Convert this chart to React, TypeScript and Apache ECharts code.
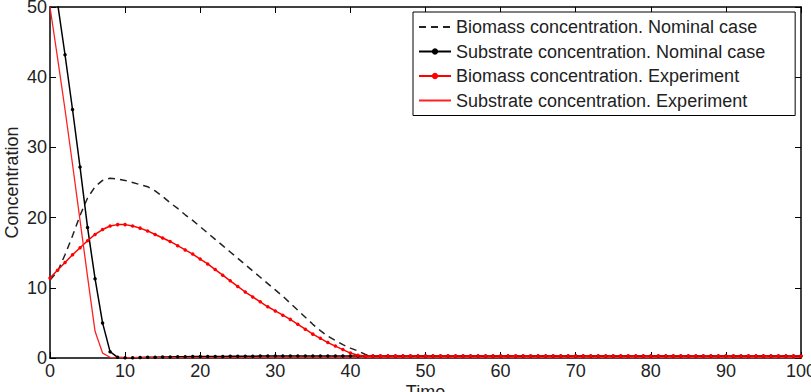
import React, { useEffect, useRef } from "react";
import * as echarts from "echarts";

// Time grid (x values)
const time: number[] = Array.from({ length: 101 }, (_, i) => i);

// Biomass concentration, nominal case (dashed)
const biomassNominal: number[] = [
  11.1, 12.3, 14.7, 17.4, 20.3, 22.8, 24.4, 25.3, 25.6, 25.5,
  25.3, 25.0, 24.7, 24.4, 23.8, 23.0, 22.1, 21.3, 20.4, 19.6,
  18.7, 17.8, 16.9, 16.0, 15.1, 14.2, 13.3, 12.4, 11.5, 10.6,
  9.7, 8.8, 7.8, 6.8, 5.8, 4.8, 3.9, 3.1, 2.5, 1.9,
  1.4, 1.0, 0.5, 0.3, 0.2, 0.2, 0.2, 0.2, 0.2, 0.2,
  0.2, 0.2, 0.2, 0.2, 0.2, 0.2, 0.2, 0.2, 0.2, 0.2,
  0.2, 0.2, 0.2, 0.2, 0.2, 0.2, 0.2, 0.2, 0.2, 0.2,
  0.2, 0.2, 0.2, 0.2, 0.2, 0.2, 0.2, 0.2, 0.2, 0.2,
  0.2, 0.2, 0.2, 0.2, 0.2, 0.2, 0.2, 0.2, 0.2, 0.2,
  0.2, 0.2, 0.2, 0.2, 0.2, 0.2, 0.2, 0.2, 0.2, 0.2,
  0.2,
];

// Substrate concentration, nominal case (black, markers)
const substrateNominal: number[] = [
  58.0, 50.6, 43.2, 35.4, 27.2, 18.6, 11.3, 5.0, 0.9, 0.1,
  0.05, 0.05, 0.08, 0.1, 0.12, 0.15, 0.15, 0.18, 0.18, 0.2,
  0.2, 0.2, 0.22, 0.22, 0.25, 0.25, 0.25, 0.25, 0.27, 0.27,
  0.28, 0.28, 0.28, 0.3, 0.3, 0.3, 0.3, 0.3, 0.3, 0.3,
  0.3, 0.3, 0.3, 0.3, 0.3, 0.3, 0.3, 0.3, 0.3, 0.3,
  0.3, 0.3, 0.3, 0.3, 0.3, 0.3, 0.3, 0.3, 0.3, 0.3,
  0.3, 0.3, 0.3, 0.3, 0.3, 0.3, 0.3, 0.3, 0.3, 0.3,
  0.3, 0.3, 0.3, 0.3, 0.3, 0.3, 0.3, 0.3, 0.3, 0.3,
  0.3, 0.3, 0.3, 0.3, 0.3, 0.3, 0.3, 0.3, 0.3, 0.3,
  0.3, 0.3, 0.3, 0.3, 0.3, 0.3, 0.3, 0.3, 0.3, 0.3,
  0.3,
];

// Biomass concentration, experiment (red, markers)
const biomassExperiment: number[] = [
  11.4, 12.5, 13.6, 14.7, 15.7, 16.7, 17.6, 18.3, 18.8, 19.0,
  19.0, 18.8, 18.5, 18.1, 17.6, 17.1, 16.6, 16.0, 15.4, 14.8,
  14.1, 13.4, 12.6, 11.8, 11.0, 10.2, 9.4, 8.7, 8.0, 7.3,
  6.7, 6.1, 5.5, 4.8, 4.1, 3.4, 2.8, 2.2, 1.7, 1.2,
  0.7, 0.4, 0.3, 0.3, 0.3, 0.3, 0.3, 0.3, 0.3, 0.3,
  0.3, 0.3, 0.3, 0.3, 0.3, 0.3, 0.3, 0.3, 0.3, 0.3,
  0.3, 0.3, 0.3, 0.3, 0.3, 0.3, 0.3, 0.3, 0.3, 0.3,
  0.3, 0.3, 0.3, 0.3, 0.3, 0.3, 0.3, 0.3, 0.3, 0.3,
  0.3, 0.3, 0.3, 0.3, 0.3, 0.3, 0.3, 0.3, 0.3, 0.3,
  0.3, 0.3, 0.3, 0.3, 0.3, 0.3, 0.3, 0.3, 0.3, 0.3,
  0.3,
];

// Substrate concentration, experiment (red line)
const substrateExperiment: number[] = [
  50.0, 42.8, 35.4, 27.6, 19.6, 11.6, 3.8, 0.7, 0.1, 0.05,
  0.05, 0.05, 0.05, 0.05, 0.05, 0.05, 0.05, 0.05, 0.05, 0.05,
  0.05, 0.05, 0.05, 0.05, 0.05, 0.05, 0.05, 0.05, 0.05, 0.05,
  0.05, 0.05, 0.05, 0.05, 0.05, 0.05, 0.05, 0.05, 0.05, 0.05,
  0.05, 0.05, 0.05, 0.05, 0.05, 0.05, 0.05, 0.05, 0.05, 0.05,
  0.05, 0.05, 0.05, 0.05, 0.05, 0.05, 0.05, 0.05, 0.05, 0.05,
  0.05, 0.05, 0.05, 0.05, 0.05, 0.05, 0.05, 0.05, 0.05, 0.05,
  0.05, 0.05, 0.05, 0.05, 0.05, 0.05, 0.05, 0.05, 0.05, 0.05,
  0.05, 0.05, 0.05, 0.05, 0.05, 0.05, 0.05, 0.05, 0.05, 0.05,
  0.05, 0.05, 0.05, 0.05, 0.05, 0.05, 0.05, 0.05, 0.05, 0.05,
  0.05,
];

const seriesNames: string[] = [
  "Biomass concentration. Nominal case",
  "Substrate concentration. Nominal case",
  "Biomass concentration. Experiment",
  "Substrate concentration. Experiment",
];

const FONT = "'Liberation Sans', Arial, Helvetica, sans-serif";

const pair = (vals: number[]) => time.map((t, i) => [t, vals[i]]);

export default function App() {
  const ref = useRef<HTMLDivElement>(null);
  useEffect(() => {
    const chart = echarts.init(ref.current!, null, { renderer: "svg" });
    const axisLine = { show: true, onZero: false, lineStyle: { color: "#000", width: 1.5 } };
    const axisTick = { show: true, inside: true, length: 6, lineStyle: { color: "#000", width: 1 } };
    chart.setOption({
      animation: false,
      backgroundColor: "#fff",
      textStyle: { fontFamily: FONT },
      grid: {
        left: 50,
        right: 10,
        top: 7,
        bottom: 34,
        containLabel: false,
        outerBoundsMode: "none",
      },
      legend: {
        orient: "vertical",
        left: 413,
        top: 12,
        itemWidth: 32,
        itemHeight: 8,
        itemGap: 6.5,
        padding: [6, 30, 6, 5],
        borderColor: "#000",
        borderWidth: 1,
        backgroundColor: "#fff",
        textStyle: { fontSize: 18, color: "#222", fontFamily: FONT },
        data: [
          { name: seriesNames[0], itemStyle: { opacity: 0 } },
          { name: seriesNames[1] },
          { name: seriesNames[2] },
          { name: seriesNames[3], itemStyle: { opacity: 0 } },
        ],
      },
      xAxis: [
        {
          type: "value",
          min: 0,
          max: 100,
          interval: 10,
          position: "bottom",
          name: "Time",
          nameLocation: "middle",
          nameGap: 25,
          nameMoveOverlap: false,
          nameTextStyle: { fontSize: 18, color: "#222", fontFamily: FONT },
          axisLine,
          axisTick,
          axisLabel: { fontSize: 18, color: "#222", margin: 4, fontFamily: FONT },
          splitLine: { show: false },
        },
        {
          type: "value",
          min: 0,
          max: 100,
          interval: 10,
          position: "top",
          axisLine,
          axisTick,
          axisLabel: { show: false },
          splitLine: { show: false },
        },
      ],
      yAxis: [
        {
          type: "value",
          min: 0,
          max: 50,
          interval: 10,
          position: "left",
          name: "Concentration",
          nameLocation: "middle",
          nameGap: 29,
          nameMoveOverlap: false,
          nameTextStyle: { fontSize: 18, color: "#222", fontFamily: FONT },
          axisLine,
          axisTick,
          axisLabel: { fontSize: 18, color: "#222", margin: 3, fontFamily: FONT },
          splitLine: { show: false },
        },
        {
          type: "value",
          min: 0,
          max: 50,
          interval: 10,
          position: "right",
          axisLine,
          axisTick,
          axisLabel: { show: false },
          splitLine: { show: false },
        },
      ],
      series: [
        {
          name: seriesNames[0],
          type: "line",
          data: pair(biomassNominal),
          symbol: "none",
          lineStyle: { color: "#222", width: 1.5, type: [7, 5] },
          itemStyle: { color: "#222" },
          clip: true,
        },
        {
          name: seriesNames[1],
          type: "line",
          data: pair(substrateNominal),
          symbol: "circle",
          symbolSize: 3.5,
          showAllSymbol: true,
          lineStyle: { color: "#000", width: 1.5 },
          itemStyle: { color: "#000" },
          clip: true,
        },
        {
          name: seriesNames[2],
          type: "line",
          data: pair(biomassExperiment),
          symbol: "circle",
          symbolSize: 3.5,
          showAllSymbol: true,
          lineStyle: { color: "#ff0000", width: 1.5 },
          itemStyle: { color: "#ff0000" },
          clip: true,
        },
        {
          name: seriesNames[3],
          type: "line",
          data: pair(substrateExperiment),
          symbol: "none",
          lineStyle: { color: "#ff2020", width: 1.3 },
          itemStyle: { color: "#ff2020" },
          clip: true,
        },
      ],
    });
    return () => chart.dispose();
  }, []);
  return (
    <div
      ref={ref}
      style={{ position: "fixed", left: 0, top: 0, width: 811, height: 392 }}
    />
  );
}
